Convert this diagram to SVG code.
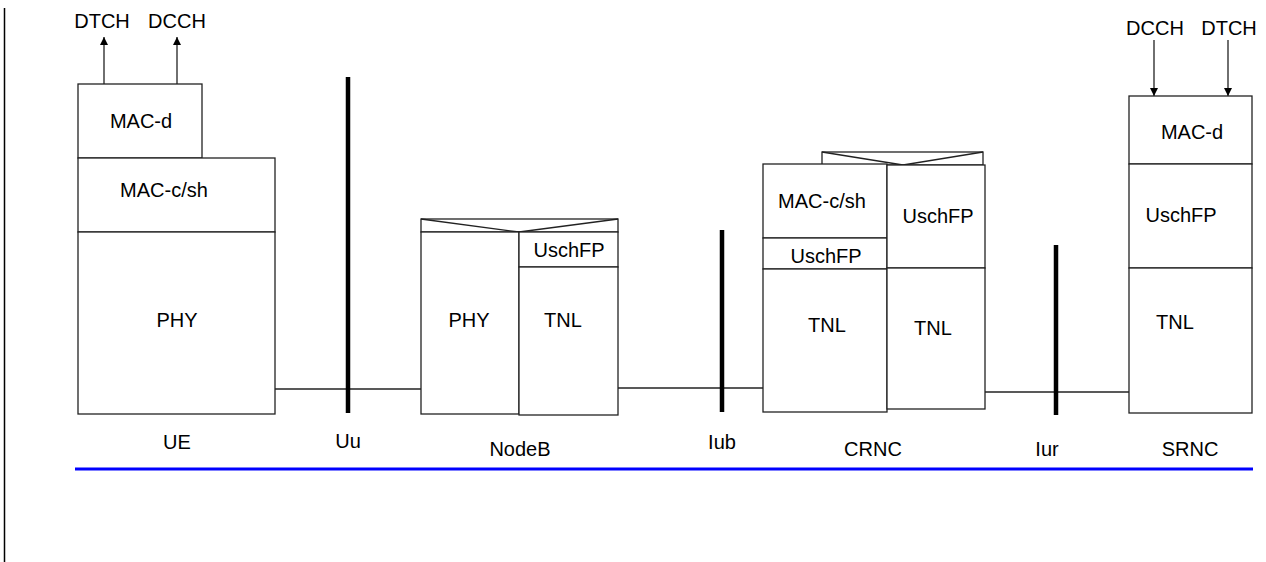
<svg xmlns="http://www.w3.org/2000/svg" width="1266" height="562" viewBox="0 0 1266 562">
<style>
.b{fill:#fff;stroke:#222;stroke-width:1.3}
.l{stroke:#222;stroke-width:1.3;fill:none}
.bar{stroke:#000;stroke-width:4.5}
text{font-family:"Liberation Sans",Arial,sans-serif;font-size:20px;fill:#000;text-anchor:middle}
</style>
<defs>
<marker id="ah" viewBox="0 0 10 10" refX="10" refY="5" markerWidth="8" markerHeight="8" markerUnits="userSpaceOnUse" orient="auto">
<path d="M0,0 L10,5 L0,10 z" fill="#000"/>
</marker>
</defs>
<line x1="4.5" y1="8" x2="4.5" y2="562" stroke="#000" stroke-width="1.5"/>
<g id="connectors">
<line class="l" x1="275" y1="389" x2="421" y2="389"/>
<line class="l" x1="618" y1="388" x2="763" y2="388"/>
<line class="l" x1="985" y1="392" x2="1129" y2="392"/>
<line class="l" x1="104" y1="84" x2="104" y2="37" marker-end="url(#ah)"/>
<line class="l" x1="177" y1="84" x2="177" y2="37" marker-end="url(#ah)"/>
<line class="l" x1="1154" y1="40" x2="1154" y2="96" marker-end="url(#ah)"/>
<line class="l" x1="1228" y1="40" x2="1228" y2="96" marker-end="url(#ah)"/>
</g>
<g id="UE">
<rect class="b" x="78" y="84" width="124" height="74"/>
<rect class="b" x="78" y="158" width="197" height="74"/>
<rect class="b" x="78" y="232" width="197" height="182"/>
<text x="141" y="128">MAC-d</text>
<text x="164" y="197">MAC-c/sh</text>
<text x="177" y="327">PHY</text>
<text x="102" y="28">DTCH</text>
<text x="177" y="28">DCCH</text>
<text x="177" y="449">UE</text>
</g>
<g id="Uu">
<line class="bar" x1="348" y1="77" x2="348" y2="413"/>
<text x="348" y="448">Uu</text>
</g>
<g id="NodeB">
<rect class="b" x="421" y="219" width="197" height="13"/>
<polyline class="l" points="421,219 519,232 618,219"/>
<rect class="b" x="421" y="232" width="98" height="182"/>
<rect class="b" x="519" y="232" width="99" height="35"/>
<rect class="b" x="519" y="267" width="99" height="148"/>
<text x="569" y="257">UschFP</text>
<text x="469" y="327">PHY</text>
<text x="563" y="327">TNL</text>
<text x="520" y="456">NodeB</text>
</g>
<g id="Iub">
<line class="bar" x1="722" y1="230" x2="722" y2="412"/>
<text x="722" y="449">Iub</text>
</g>
<g id="CRNC">
<rect class="b" x="822" y="152" width="161" height="13"/>
<polyline class="l" points="822,152 903,165 983,152"/>
<rect class="b" x="763" y="164" width="124" height="74"/>
<rect class="b" x="763" y="238" width="124" height="31"/>
<rect class="b" x="763" y="269" width="124" height="143"/>
<rect class="b" x="887" y="165" width="98" height="103"/>
<rect class="b" x="887" y="268" width="98" height="141"/>
<text x="822" y="208">MAC-c/sh</text>
<text x="826" y="263">UschFP</text>
<text x="938" y="223">UschFP</text>
<text x="827" y="332">TNL</text>
<text x="933" y="335">TNL</text>
<text x="873" y="456">CRNC</text>
</g>
<g id="Iur">
<line class="bar" x1="1056" y1="245" x2="1056" y2="415"/>
<text x="1047" y="456">Iur</text>
</g>
<g id="SRNC">
<rect class="b" x="1129" y="96" width="123" height="68"/>
<rect class="b" x="1129" y="164" width="123" height="104"/>
<rect class="b" x="1129" y="268" width="123" height="145"/>
<text x="1192" y="139">MAC-d</text>
<text x="1181" y="222">UschFP</text>
<text x="1175" y="329">TNL</text>
<text x="1155" y="35">DCCH</text>
<text x="1229" y="35">DTCH</text>
<text x="1190" y="456">SRNC</text>
</g>
<line x1="75" y1="469" x2="1253" y2="469" stroke="#0000ff" stroke-width="3"/>
</svg>
